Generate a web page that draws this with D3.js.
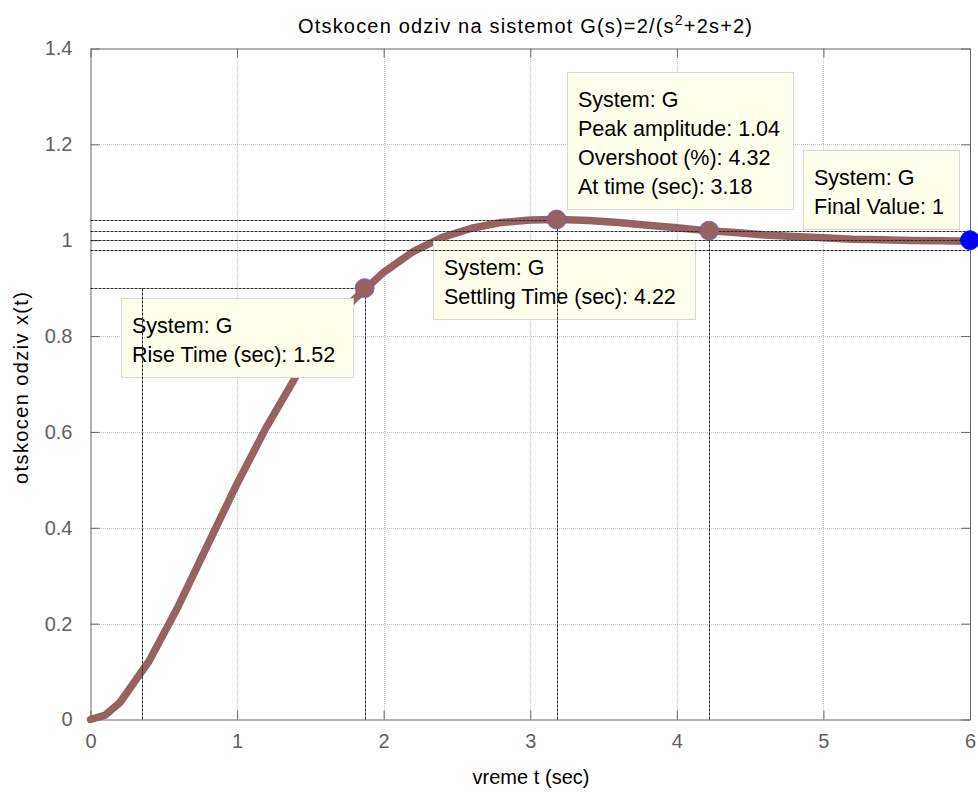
<!DOCTYPE html>
<html>
<head>
<meta charset="utf-8">
<script src="https://cdn.jsdelivr.net/npm/d3@7"></script>
<style>
  body { margin: 0; background: #fff; }
  svg { display: block; }
  text { font-family: Arial, "Liberation Sans", sans-serif; }
</style>
</head>
<body>
<svg id="chart" width="978" height="793"></svg>
<script>
// Step response samples of G(s) = 2/(s^2+2s+2)
const timeValues = [0, 0.1, 0.2, 0.4, 0.6, 0.8, 1.0, 1.2, 1.4, 1.6, 1.8, 2.0, 2.2, 2.4, 2.6, 2.8,
  3.0, 3.2, 3.4, 3.6, 3.8, 4.0, 4.2, 4.4, 4.6, 4.8, 5.0, 5.2, 5.4, 5.6, 5.8, 6.0];
const responseValues = [0, 0.009, 0.035, 0.122, 0.237, 0.365, 0.492, 0.610, 0.715, 0.804, 0.877, 0.933,
  0.976, 1.006, 1.025, 1.037, 1.042, 1.043, 1.041, 1.037, 1.031, 1.026, 1.020, 1.016, 1.011, 1.008,
  1.005, 1.002, 1.001, 0.9995, 0.999, 0.998];

const xTicks = [0, 1, 2, 3, 4, 5, 6];
const xTickLabels = ["0", "1", "2", "3", "4", "5", "6"];
const yTicks = [0, 0.2, 0.4, 0.6, 0.8, 1.0, 1.2, 1.4];
const yTickLabels = ["0", "0.2", "0.4", "0.6", "0.8", "1", "1.2", "1.4"];

// Characteristics shown in the data tips
const riseTime = 1.52;
const riseStart = 0.35;
const riseLevel = 0.9;
const peakTime = 3.18;
const overshootPct = 4.32;
const peakAmplitudeLabel = "1.04";
const settlingTime = 4.22;
const settlingBand = 0.02;
const finalValue = 1;

const peakAmplitude = finalValue * (1 + overshootPct / 100);

const svg = d3.select("#chart");
const plotLeft = 90.5, plotRight = 970, plotTop = 48.5, plotBottom = 719.5;
const x = d3.scaleLinear().domain([0, 6]).range([plotLeft, plotRight]);
const y = d3.scaleLinear().domain([0, 1.4]).range([plotBottom, plotTop]);

const axisColor = "#666";
const curveColor = "#976262";

// Grid
const grid = svg.append("g").attr("stroke", "#c4c4c4").attr("stroke-width", 1)
  .attr("stroke-dasharray", "1,1").attr("shape-rendering", "crispEdges");
grid.selectAll(".gx").data(xTicks.slice(1, -1)).join("line")
  .attr("x1", d => Math.round(x(d)) + 0.5).attr("x2", d => Math.round(x(d)) + 0.5)
  .attr("y1", plotTop).attr("y2", plotBottom);
grid.selectAll(".gy").data(yTicks.slice(1, -1)).join("line")
  .attr("y1", d => Math.round(y(d)) + 0.5).attr("y2", d => Math.round(y(d)) + 0.5)
  .attr("x1", plotLeft).attr("x2", plotRight);

// Axes box with inward ticks on all four sides
const tickLen = 9;
const axBottom = d3.axisBottom(x).tickValues(xTicks).tickSizeInner(-tickLen).tickSizeOuter(0)
  .tickFormat((d, i) => xTickLabels[i]).tickPadding(14);
const axTop = d3.axisTop(x).tickValues(xTicks).tickSizeInner(-tickLen).tickSizeOuter(0).tickFormat("");
const axLeft = d3.axisLeft(y).tickValues(yTicks).tickSizeInner(-tickLen).tickSizeOuter(0)
  .tickFormat((d, i) => yTickLabels[i]).tickPadding(18);
const axRight = d3.axisRight(y).tickValues(yTicks).tickSizeInner(-tickLen).tickSizeOuter(0).tickFormat("");

function styleAxis(g) {
  g.selectAll("path").attr("stroke", axisColor);
  g.selectAll("line").attr("stroke", axisColor);
  g.selectAll("text").attr("fill", "#5f5f5f").style("font-size", "20px")
    .style("font-family", "Arial, 'Liberation Sans', sans-serif");
}
svg.append("g").attr("transform", `translate(0,${plotBottom})`).call(axBottom).call(styleAxis);
svg.append("g").attr("transform", `translate(0,${plotTop})`).call(axTop).call(styleAxis);
svg.append("g").attr("transform", `translate(${plotLeft},0)`).call(axLeft).call(styleAxis);
svg.append("g").attr("transform", `translate(${plotRight},0)`).call(axRight).call(styleAxis);

// Response curve
const line = d3.line().x((d, i) => x(timeValues[i])).y(d => y(d));
svg.append("path").datum(responseValues)
  .attr("d", line).attr("fill", "none").attr("stroke", curveColor)
  .attr("stroke-width", 7.5).attr("stroke-linejoin", "round").attr("stroke-linecap", "round");

// Data tip boxes, placed relative to the point each one describes
const tips = [
  { t: riseStart + riseTime, v: riseLevel, dx: -243.6, dy: 10, w: 232, h: 79,
    lines: ["System: G", `Rise Time (sec): ${riseTime.toFixed(2)}`] },
  { t: settlingTime, v: finalValue + settlingBand, dx: -276, dy: 9.4, w: 262, h: 79,
    lines: ["System: G", `Settling Time (sec): ${settlingTime.toFixed(2)}`] },
  { t: peakTime, v: peakAmplitude, dx: 10.4, dy: -148, w: 226, h: 137,
    lines: ["System: G", `Peak amplitude: ${peakAmplitudeLabel}`, `Overshoot (%): ${overshootPct.toFixed(2)}`,
      `At time (sec): ${peakTime.toFixed(2)}`] },
  { t: 6, v: finalValue, dx: -167, dy: -90, w: 156, h: 79,
    lines: ["System: G", `Final Value: ${finalValue}`] }
];

const tipG = svg.append("g");
tips.forEach(tp => {
  const bx = Math.round(x(tp.t) + tp.dx) + 0.5, by = Math.round(y(tp.v) + tp.dy) + 0.5;
  tipG.append("rect").attr("x", bx).attr("y", by).attr("width", tp.w).attr("height", tp.h)
    .attr("fill", "#ffffee").attr("stroke", "#d8d8d8").attr("stroke-width", 1);
  tp.lines.forEach((s, i) => {
    tipG.append("text").attr("x", bx + 10.5).attr("y", by + 34 + i * 29)
      .attr("fill", "#000").style("font-size", "21.5px").text(s);
  });
});

// Reference lines marking each characteristic
const ref = svg.append("g").attr("stroke", "#2a2a2a").attr("stroke-width", 1)
  .attr("stroke-dasharray", "3,1").attr("fill", "none");
function hline(v, t0, t1) {
  ref.append("line").attr("x1", x(t0)).attr("x2", x(t1))
    .attr("y1", Math.round(y(v)) + 0.5).attr("y2", Math.round(y(v)) + 0.5);
}
function vline(t, v0, v1) {
  ref.append("line").attr("x1", Math.round(x(t)) + 0.5).attr("x2", Math.round(x(t)) + 0.5)
    .attr("y1", y(v0)).attr("y2", y(v1));
}
hline(riseLevel, 0, riseStart + riseTime);
vline(riseStart, 0, riseLevel);
vline(riseStart + riseTime, 0, riseLevel);
hline(peakAmplitude, 0, peakTime);
vline(peakTime, 0, peakAmplitude);
hline(finalValue + settlingBand, 0, 6);
hline(finalValue - settlingBand, 0, 6);
vline(settlingTime, 0, finalValue + settlingBand);
hline(finalValue, 0, 6);

// Markers
const markers = [
  { t: riseStart + riseTime, v: riseLevel, fill: curveColor },
  { t: peakTime, v: peakAmplitude, fill: curveColor },
  { t: settlingTime, v: finalValue + settlingBand, fill: curveColor },
  { t: 6, v: finalValue, fill: "#0000ff" }
];
svg.append("g").selectAll("circle").data(markers).join("circle")
  .attr("cx", d => x(d.t)).attr("cy", d => y(d.v)).attr("r", 9.5)
  .attr("fill", d => d.fill).attr("stroke", d => d.fill === "#0000ff" ? "#0000ff" : "#6a5acd")
  .attr("stroke-width", 0.8);

// Title and axis labels
const title = svg.append("text").attr("x", 525).attr("y", 33).attr("text-anchor", "middle")
  .attr("fill", "#000").style("font-size", "20px")
  .attr("textLength", 454).attr("lengthAdjust", "spacing");
title.append("tspan").text("Otskocen odziv na sistemot G(s)=2/(s");
title.append("tspan").attr("dy", -8).style("font-size", "14px").text("2");
title.append("tspan").attr("dy", 8).text("+2s+2)");

svg.append("text").attr("x", 531).attr("y", 784).attr("text-anchor", "middle")
  .attr("fill", "#000").style("font-size", "20px")
  .attr("textLength", 117).attr("lengthAdjust", "spacing").text("vreme t (sec)");

svg.append("text").attr("transform", `translate(28,${(plotTop + plotBottom) / 2 + 4}) rotate(-90)`)
  .attr("text-anchor", "middle").attr("fill", "#000").style("font-size", "20px")
  .attr("textLength", 192).attr("lengthAdjust", "spacing")
  .text("otskocen odziv x(t)");
</script>
</body>
</html>
